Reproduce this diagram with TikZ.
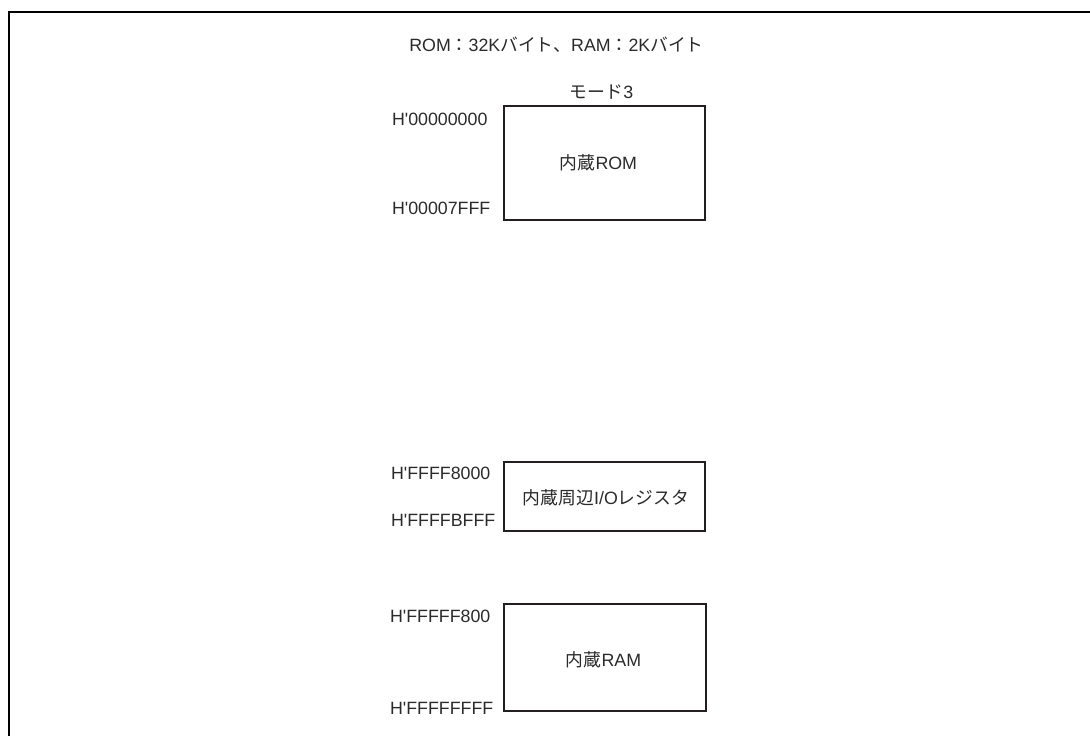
\documentclass[tikz,border=0pt]{standalone}
\usepackage{fontspec}
\setmainfont{Liberation Sans}[Ligatures=TeXOff]
\newfontfamily\jp{Noto Sans CJK JP}
\definecolor{txtcol}{HTML}{2A2A2A}
\definecolor{boxcol}{HTML}{231F20}
\begin{document}
\begin{tikzpicture}[x=1pt,y=-1pt,
  every node/.style={inner sep=0pt,outer sep=0pt},
  txt/.style={font=\fontsize{17.8}{20}\selectfont,text=txtcol},
  addr/.style={txt,anchor=base west},
  ctr/.style={txt,anchor=base},
  membox/.style={draw=boxcol,line width=2pt,fill=none},
  frameline/.style={draw=black,line width=1.4pt}]
\useasboundingbox (0,0) rectangle (1090,736);
% outer frame
\coordinate (fbl) at (9,737);
\coordinate (ftl) at (9,12);
\coordinate (ftr) at (1091,12);
\draw[frameline] (fbl) -- (ftl) -- (ftr);
% titles
\node[ctr] (title) at (556.5,51.5) {ROM{\jp ：}32K{\jp バイト、}RAM{\jp ：}2K{\jp バイト}};
\node[ctr] (mode) at (601.5,98.5) {{\jp モード}3};
% boxes
\node[membox,minimum width=201pt,minimum height=114pt] (rom) at (604.5,163) {};
\node[membox,minimum width=201pt,minimum height=69pt] (io) at (604.5,496.5) {};
\node[membox,minimum width=202pt,minimum height=107pt] (ram) at (605,657.5) {};
% box texts
\node[ctr] (romt) at (598.5,169) {{\jp 内蔵}ROM};
\node[ctr] (iot) at (606,504) {{\jp 内蔵周辺}I/O{\jp レジスタ}};
\node[ctr] (ramt) at (603.5,666) {{\jp 内蔵}RAM};
% addresses
\node[addr] (a1) at (392,125.7) {H'00000000};
\node[addr] (a2) at (392,214) {H'00007FFF};
\node[addr] (a3) at (391,479) {H'FFFF8000};
\node[addr] (a4) at (391,526) {H'FFFFBFFF};
\node[addr] (a5) at (390,622) {H'FFFFF800};
\node[addr] (a6) at (390,714) {H'FFFFFFFF};
\end{tikzpicture}
\end{document}
